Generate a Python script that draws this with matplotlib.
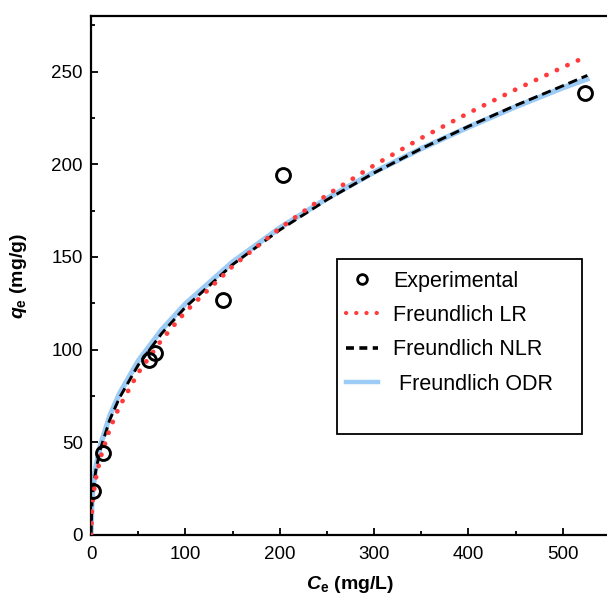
import matplotlib
matplotlib.use("Agg")
import matplotlib.pyplot as plt
from matplotlib.patches import Rectangle
from matplotlib.lines import Line2D
from matplotlib.ticker import MultipleLocator

plt.rcParams['font.family'] = ['Liberation Sans', 'DejaVu Sans']
plt.rcParams['mathtext.fontset'] = 'custom'
plt.rcParams['mathtext.rm'] = 'Liberation Sans:bold'
plt.rcParams['mathtext.it'] = 'Liberation Sans:italic:bold'
plt.rcParams['mathtext.bf'] = 'Liberation Sans:bold'

# Experimental data
ce_exp = [2, 13, 61, 68, 140, 203, 523]
qe_exp = [23.5, 44, 94.5, 98, 127, 194.5, 238.5]

# Model curves
ce_lr = [0, 1, 2, 5, 10, 20, 30, 50, 75, 100, 150, 200, 250, 300, 350, 400, 450, 500, 522]
qe_lr = [0, 14.5, 19.9, 30.3, 41.7, 57.4, 69.2, 87.5, 105.4, 120.4, 145.0, 165.5, 183.5, 199.5, 214.2, 227.7, 240.4, 252.4, 257.5]

ce_nlr = [0, 1, 2, 5, 10, 20, 30, 50, 75, 100, 150, 200, 250, 300, 350, 400, 450, 500, 526]
qe_nlr = [0, 17.6, 23.6, 34.7, 46.5, 62.3, 73.9, 91.7, 108.8, 122.9, 145.9, 164.6, 180.9, 195.4, 208.5, 220.5, 231.8, 242.4, 248.0]

ce_odr = [0, 1, 2, 5, 10, 20, 30, 50, 75, 100, 150, 200, 250, 300, 350, 400, 450, 500, 528]
qe_odr = [0, 18.9, 25.1, 36.5, 48.5, 64.5, 76.1, 93.9, 110.8, 124.7, 147.3, 165.7, 181.6, 195.8, 208.5, 220.1, 231.1, 241.3, 246.5]

labels = ['Experimental', 'Freundlich LR', 'Freundlich NLR', ' Freundlich ODR']

fig = plt.figure(figsize=(6.07, 5.97), dpi=100)
ax = fig.add_axes([0.150, 0.104, 0.855, 0.869])

blue = '#9ccbf5'
red = '#ff3b3b'
red_ls = (0, (0.05, 2.4))
blk_ls = (0, (3.2, 1.7))

ax.plot(ce_odr, qe_odr, color=blue, lw=3.8, zorder=2, solid_capstyle='butt')
ax.plot(ce_nlr, qe_nlr, color='black', lw=2.1, ls=blk_ls, zorder=3)
ax.plot(ce_lr, qe_lr, color=red, lw=3.4, ls=red_ls, dash_capstyle='round', zorder=4)
ax.plot(ce_exp, qe_exp, 'o', mfc='none', mec='black', mew=2.1, ms=10, zorder=5)

ax.set_xlim(0, 550)
ax.set_ylim(0, 280)
ax.xaxis.set_major_locator(MultipleLocator(100))
ax.xaxis.set_minor_locator(MultipleLocator(50))
ax.yaxis.set_major_locator(MultipleLocator(50))
ax.yaxis.set_minor_locator(MultipleLocator(25))
ax.tick_params(which='both', direction='in', width=1.3, labelsize=13.5, top=False, right=False)
ax.tick_params(which='major', length=5)
ax.tick_params(axis='x', which='major', pad=8)
ax.tick_params(axis='y', which='major', pad=6)
ax.tick_params(which='minor', length=3)
for s in ax.spines.values():
    s.set_linewidth(1.6)

ax.set_xlabel(r'$C_{\mathrm{e}}$ (mg/L)', fontsize=14, fontweight='bold', labelpad=8)
ax.set_ylabel(r'$q_{\mathrm{e}}$ (mg/g)', fontsize=14, fontweight='bold', labelpad=16)

# legend frame
ax.add_patch(Rectangle((0.474, 0.195), 0.472, 0.337, transform=ax.transAxes,
                       fill=True, facecolor='white', edgecolor='black', lw=1.3, zorder=6))
handles = [
    Line2D([], [], ls='none', marker='o', mfc='white', mec='black', mew=2.0, ms=7),
    Line2D([], [], color=red, lw=3.0, ls=red_ls, dash_capstyle='round'),
    Line2D([], [], color='black', lw=2.6, ls=(0, (2.2, 1.5))),
    Line2D([], [], color=blue, lw=3.2),
]
leg = ax.legend(handles, labels, loc='upper left', bbox_to_anchor=(0.474, 0.526),
                frameon=False, fontsize=15.5, handlelength=1.5, handletextpad=0.7,
                labelspacing=0.62, borderaxespad=0.0, borderpad=0.4)
leg.set_zorder(7)

fig.savefig('out.png', dpi=100)
